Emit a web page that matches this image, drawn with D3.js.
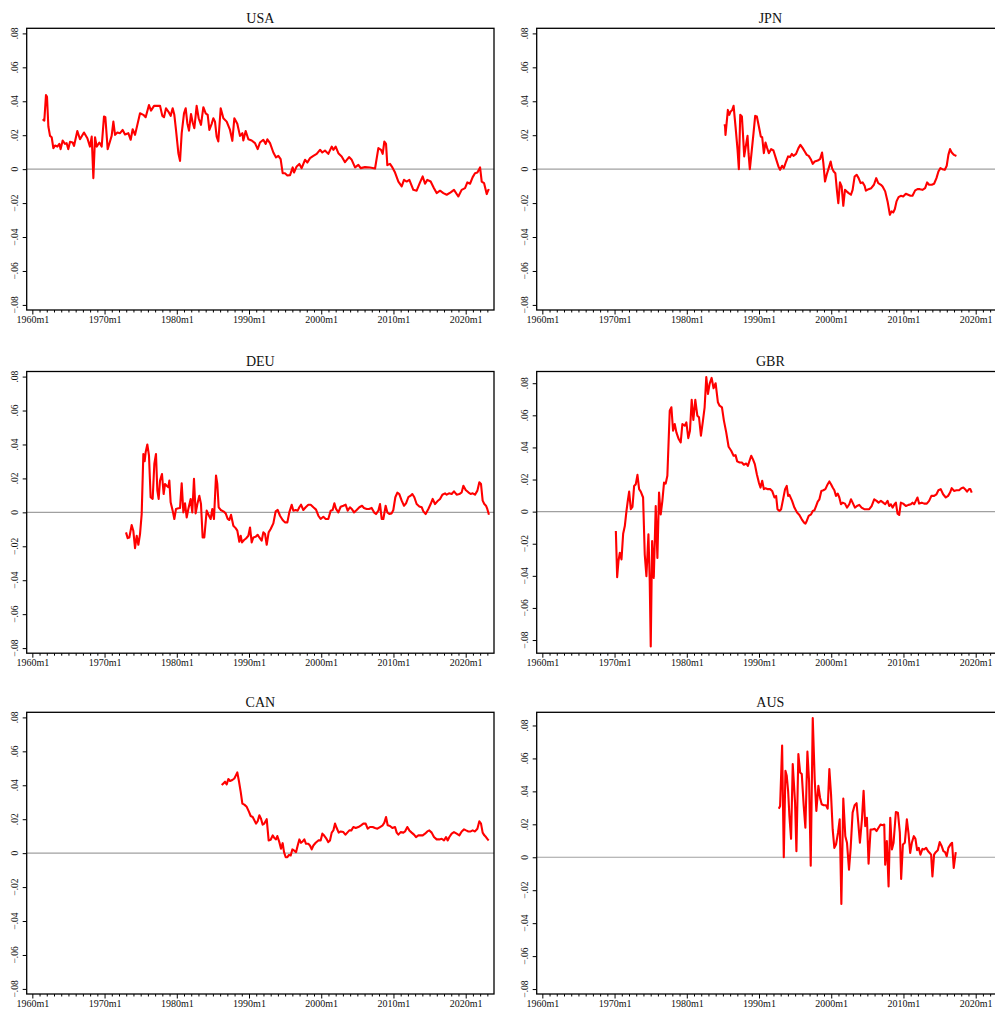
<!DOCTYPE html>
<html>
<head>
<meta charset="utf-8">
<script src="https://cdn.jsdelivr.net/npm/d3@7"></script>
<style>
  html, body { margin: 0; padding: 0; background: #fff; overflow: hidden; }
  svg { display: block; font-family: "Liberation Serif", "Times New Roman", serif; }
</style>
</head>
<body>
<svg width="995" height="1010"></svg>
<script>
// **** Data: [decimal year, value] ****
const usa = [[1961.43,.0294],[1961.66,.0286],[1961.89,.0437],[1962.03,.0427],[1962.22,.0251],[1962.45,.0196],[1962.68,.0188],[1962.91,.0124],[1963.14,.0139],[1963.46,.0133],[1963.74,.0149],[1963.92,.0118],[1964.2,.0169],[1964.52,.0149],[1964.75,.0153],[1964.98,.0118],[1965.22,.0161],[1965.58,.0157],[1965.77,.0137],[1966.23,.0225],[1966.6,.0176],[1967.15,.0216],[1967.62,.0182],[1967.98,.0133],[1968.22,.0192],[1968.45,-.0053],[1968.68,.0188],[1968.91,.0133],[1969.28,.0157],[1969.6,.0133],[1969.92,.031],[1970.11,.0306],[1970.43,.0118],[1970.75,.0163],[1970.98,.0196],[1971.22,.028],[1971.45,.0202],[1971.77,.0216],[1972.14,.0212],[1972.51,.0231],[1972.83,.0204],[1973.29,.0212],[1973.62,.0173],[1973.89,.0235],[1974.22,.0202],[1974.91,.0329],[1975.37,.032],[1975.69,.0306],[1976.15,.0378],[1976.43,.0345],[1976.85,.0373],[1977.22,.0373],[1977.68,.0373],[1978.0,.0314],[1978.23,.0306],[1978.51,.0359],[1978.83,.0339],[1979.15,.0314],[1979.43,.0359],[1979.66,.032],[1979.89,.0231],[1980.22,.0094],[1980.45,.0049],[1980.68,.0212],[1981.0,.0329],[1981.23,.0359],[1981.46,.0271],[1981.69,.0227],[1981.97,.0325],[1982.2,.0275],[1982.43,.0241],[1982.75,.0373],[1983.03,.03],[1983.35,.0261],[1983.68,.0365],[1984.0,.0329],[1984.28,.032],[1984.51,.0231],[1984.83,.0267],[1985.06,.03],[1985.29,.028],[1985.52,.0192],[1985.75,.0163],[1986.08,.0359],[1986.45,.03],[1986.91,.028],[1987.37,.0231],[1987.69,.0167],[1987.97,.03],[1988.38,.0267],[1988.75,.0196],[1989.08,.0212],[1989.21,.0169],[1989.54,.0225],[1989.91,.0176],[1990.37,.0169],[1990.83,.0153],[1991.2,.0118],[1991.52,.0157],[1991.98,.0173],[1992.31,.0149],[1992.54,.0176],[1992.91,.0153],[1993.37,.0098],[1993.74,.0069],[1994.06,.0078],[1994.38,.0059],[1994.66,-.0024],[1994.98,-.0024],[1995.31,-.0037],[1995.68,-.0035],[1996.05,.001],[1996.23,-.002],[1996.6,.0016],[1996.97,.0031],[1997.29,.0006],[1997.75,.0055],[1998.08,.0039],[1998.45,.0065],[1998.91,.0078],[1999.37,.009],[1999.83,.0114],[2000.15,.0098],[2000.52,.011],[2000.98,.009],[2001.45,.0133],[2001.68,.0114],[2002.0,.0133],[2002.37,.0094],[2002.83,.0075],[2003.29,.0041],[2003.85,.0071],[2004.22,.0055],[2004.68,.001],[2005.14,.0025],[2005.46,.0006],[2006.06,.0012],[2006.75,.001],[2007.45,.0004],[2007.91,.0124],[2008.28,.0114],[2008.51,.009],[2008.74,.0163],[2008.97,.0149],[2009.15,.0024],[2009.52,.0031],[2009.85,.001],[2010.22,-.002],[2010.68,-.0073],[2011.14,-.0102],[2011.46,-.0063],[2011.83,-.0073],[2012.2,-.0063],[2012.75,-.0122],[2013.21,-.0127],[2013.68,-.0078],[2014.05,-.0043],[2014.37,-.0086],[2014.69,-.0063],[2015.15,-.0073],[2015.61,-.0112],[2015.98,-.0141],[2016.45,-.0127],[2016.91,-.0141],[2017.37,-.0151],[2017.92,-.0137],[2018.38,-.0122],[2018.98,-.0161],[2019.44,-.0122],[2019.91,-.0112],[2020.23,-.0078],[2020.6,-.0086],[2020.97,-.0047],[2021.29,-.0024],[2021.62,-.002],[2021.99,.001],[2022.22,-.0073],[2022.54,-.0082],[2022.91,-.0147],[2023.14,-.0122],[2023.28,-.0125]];

const jpn = [[1985.23,.0265],[1985.3,.0251],[1985.36,.0202],[1985.69,.0349],[1985.88,.032],[1986.06,.0339],[1986.29,.0349],[1986.48,.0373],[1986.75,.0251],[1987.03,.0114],[1987.21,0],[1987.4,.032],[1987.63,.031],[1987.77,.0212],[1987.95,.0075],[1988.13,.0124],[1988.41,.0196],[1988.55,.0094],[1988.73,0],[1988.96,.0094],[1989.24,.0212],[1989.47,.0314],[1989.7,.031],[1989.98,.0251],[1990.25,.0192],[1990.44,.0188],[1990.67,.0094],[1990.9,.0157],[1991.13,.0124],[1991.36,.0094],[1991.68,.0118],[1992.0,.011],[1992.37,.0059],[1992.69,.0016],[1992.92,-.0004],[1993.2,.002],[1993.43,.0006],[1993.75,.0045],[1994.03,.0075],[1994.3,.0071],[1994.54,.009],[1994.77,.0078],[1995.13,.009],[1995.46,.0124],[1995.73,.0143],[1996.05,.0124],[1996.33,.0104],[1996.61,.0084],[1996.88,.0078],[1997.21,.0055],[1997.44,.0031],[1997.71,.0045],[1998.13,.0051],[1998.45,.0059],[1998.73,.0098],[1998.91,.0035],[1999.14,-.0073],[1999.37,-.0033],[1999.65,.0006],[1999.92,.0045],[2000.11,.0006],[2000.34,-.0014],[2000.57,-.0024],[2000.8,-.0131],[2000.98,-.02],[2001.21,-.0078],[2001.44,-.0102],[2001.67,-.0216],[2001.9,-.0122],[2002.13,-.0131],[2002.41,-.0141],[2002.73,-.0151],[2002.96,-.0122],[2003.24,-.0043],[2003.52,-.0033],[2003.79,-.0053],[2004.07,-.0082],[2004.34,-.0078],[2004.62,-.0098],[2004.8,-.0127],[2005.17,-.0118],[2005.54,-.0112],[2005.91,-.0092],[2006.23,-.0053],[2006.51,-.0082],[2006.88,-.0092],[2007.11,-.0102],[2007.47,-.0131],[2007.8,-.019],[2008.12,-.0269],[2008.35,-.0249],[2008.58,-.0255],[2008.81,-.0235],[2009.04,-.019],[2009.32,-.0165],[2009.64,-.0157],[2009.96,-.0161],[2010.33,-.0145],[2010.65,-.0151],[2010.97,-.0157],[2011.25,-.0157],[2011.62,-.0125],[2011.94,-.0118],[2012.26,-.0118],[2012.63,-.0122],[2013.0,-.0112],[2013.28,-.0078],[2013.55,-.0092],[2013.92,-.0092],[2014.24,-.0086],[2014.57,-.0053],[2014.84,-.0014],[2015.12,.0006],[2015.39,0],[2015.72,-.0004],[2015.99,.002],[2016.22,.0084],[2016.45,.0118],[2016.68,.0098],[2017.0,.0084],[2017.33,.0078]];

const deu = [[1972.97,-.0118],[1973.2,-.0152],[1973.43,-.0148],[1973.75,-.0075],[1973.98,-.0108],[1974.22,-.0211],[1974.45,-.0138],[1974.68,-.0191],[1974.91,-.0128],[1975.14,-.001],[1975.37,.0344],[1975.55,.0301],[1975.69,.0354],[1975.92,.04],[1976.15,.0335],[1976.38,.0089],[1976.66,.0079],[1976.89,.0285],[1977.12,.0344],[1977.31,.0128],[1977.49,.0079],[1977.68,.0187],[1977.95,.0226],[1978.18,.0108],[1978.37,.0167],[1978.6,.0157],[1978.83,.0148],[1978.97,.0187],[1979.15,.0059],[1979.43,.001],[1979.66,-.0039],[1979.89,.002],[1980.22,.0024],[1980.45,.0026],[1980.68,.0171],[1980.91,0],[1981.14,.0053],[1981.37,-.003],[1981.6,.002],[1981.92,.0079],[1982.15,0],[1982.38,.0197],[1982.61,-.0006],[1982.85,.0049],[1983.12,.0098],[1983.35,.0049],[1983.58,-.0148],[1983.81,-.0148],[1984.14,.001],[1984.46,-.002],[1984.69,-.0039],[1984.92,.002],[1985.15,-.0039],[1985.43,.0217],[1985.61,.0167],[1985.8,.003],[1986.08,.0014],[1986.45,.0006],[1986.77,-.0006],[1987.05,-.0039],[1987.28,-.0045],[1987.51,-.0014],[1987.83,-.0079],[1988.15,-.0093],[1988.38,-.0108],[1988.66,-.0173],[1988.85,-.0138],[1989.03,-.0177],[1989.31,-.0163],[1989.58,-.0154],[1989.91,-.0138],[1990.14,-.0089],[1990.37,-.0177],[1990.6,-.0148],[1990.92,-.0144],[1991.2,-.0132],[1991.43,-.0148],[1991.75,-.0167],[1991.98,-.0118],[1992.22,-.0128],[1992.45,-.0191],[1992.72,-.0118],[1993.0,-.0098],[1993.37,-.0065],[1993.69,.0006],[1993.97,.0014],[1994.29,-.002],[1994.66,-.0045],[1994.98,-.0059],[1995.31,-.0059],[1995.58,0],[1995.91,.0045],[1996.14,.001],[1996.46,.0014],[1996.74,.001],[1996.97,.003],[1997.2,.0045],[1997.52,.0014],[1997.85,.003],[1998.21,.0045],[1998.54,.0045],[1998.91,.003],[1999.28,.0016],[1999.6,-.002],[1999.92,-.0039],[2000.29,-.0026],[2000.62,-.0039],[2000.98,-.0039],[2001.31,.001],[2001.58,.0014],[2001.82,.0053],[2002.05,.002],[2002.37,0],[2002.69,.0033],[2003.06,.0039],[2003.38,.0045],[2003.66,.001],[2003.98,.003],[2004.22,.002],[2004.54,0],[2004.91,.0014],[2005.28,.003],[2005.65,.0039],[2005.92,.0026],[2006.29,.002],[2006.62,.002],[2006.98,.0026],[2007.31,0],[2007.58,-.001],[2007.91,.001],[2008.14,.0049],[2008.37,-.0039],[2008.6,-.0039],[2008.92,.0039],[2009.15,0],[2009.43,-.001],[2009.75,-.0006],[2009.98,.0014],[2010.26,.0089],[2010.54,.0116],[2010.81,.0108],[2011.14,.0069],[2011.46,.0039],[2011.74,.0053],[2012.06,.0089],[2012.38,.0098],[2012.61,.0108],[2012.89,.0089],[2013.21,.0049],[2013.58,.0035],[2013.91,.003],[2014.14,.0006],[2014.46,-.001],[2014.83,.002],[2015.15,.0049],[2015.43,.0079],[2015.75,.0049],[2016.08,.0065],[2016.45,.0079],[2016.77,.0104],[2017.14,.0112],[2017.37,.0104],[2017.69,.0112],[2018.06,.0108],[2018.38,.0124],[2018.75,.0104],[2019.12,.0108],[2019.45,.0118],[2019.68,.0157],[2020.0,.0132],[2020.37,.0118],[2020.69,.0108],[2020.97,.0112],[2021.29,.0104],[2021.62,.0128],[2021.89,.0177],[2022.12,.0167],[2022.35,.0069],[2022.58,.0049],[2022.81,.0039],[2022.99,.002],[2023.22,-.0014]];

const gbr = [[1970.18,-.0121],[1970.36,-.0408],[1970.54,-.0308],[1970.73,-.0256],[1970.96,-.0298],[1971.19,-.0138],[1971.42,-.009],[1971.65,.0004],[1971.83,.0067],[1972.02,.0125],[1972.25,.0015],[1972.48,.0029],[1972.71,.016],[1972.94,.0171],[1973.17,.0229],[1973.4,.014],[1973.63,.0125],[1973.95,.0088],[1974.18,-.0267],[1974.41,-.0402],[1974.69,-.0142],[1974.87,-.0433],[1975.01,-.084],[1975.2,-.0183],[1975.43,-.0413],[1975.7,.0035],[1975.93,-.0288],[1976.16,.0119],[1976.39,-.0017],[1976.62,.0067],[1976.85,.0181],[1977.08,.0175],[1977.31,.0223],[1977.64,.0629],[1977.87,.065],[1978.1,.0504],[1978.33,.0546],[1978.56,.0494],[1978.88,.0452],[1979.16,.0431],[1979.39,.0546],[1979.71,.0535],[1979.94,.0556],[1980.21,.0458],[1980.44,.0504],[1980.68,.0696],[1980.91,.0571],[1981.18,.0696],[1981.46,.0598],[1981.69,.0588],[1981.96,.0473],[1982.24,.0567],[1982.47,.065],[1982.7,.0838],[1982.93,.0733],[1983.16,.0796],[1983.44,.0833],[1983.71,.0769],[1983.99,.08],[1984.31,.0681],[1984.54,.066],[1984.87,.065],[1985.14,.0567],[1985.46,.0494],[1985.79,.0404],[1986.15,.0379],[1986.48,.0348],[1986.75,.0352],[1986.98,.0313],[1987.31,.0306],[1987.63,.0306],[1987.9,.0292],[1988.23,.03],[1988.46,.0285],[1988.69,.0317],[1988.92,.0348],[1989.15,.0327],[1989.42,.0296],[1989.7,.0233],[1989.98,.0181],[1990.21,.015],[1990.44,.0192],[1990.67,.014],[1990.9,.0146],[1991.22,.014],[1991.54,.014],[1991.82,.0129],[1992.14,.0088],[1992.37,.0098],[1992.56,.0015],[1992.83,.0004],[1993.06,.0015],[1993.29,.0067],[1993.61,.014],[1993.84,.016],[1994.03,.0098],[1994.21,.0104],[1994.58,.0067],[1994.9,.0025],[1995.27,-.0006],[1995.59,-.0021],[1995.92,-.0048],[1996.24,-.0069],[1996.42,-.0075],[1996.61,-.0058],[1996.88,-.0027],[1997.21,-.0017],[1997.44,.0004],[1997.67,.0008],[1997.9,.0035],[1998.13,.0063],[1998.36,.0077],[1998.63,.0129],[1998.91,.0133],[1999.19,.014],[1999.51,.0171],[1999.74,.0188],[1999.97,.0171],[2000.2,.015],[2000.43,.0133],[2000.66,.0098],[2000.89,.0113],[2001.12,.0088],[2001.35,.0046],[2001.58,.0056],[2001.9,.005],[2002.18,.0025],[2002.5,.0046],[2002.73,.0077],[2002.96,.0056],[2003.28,.0025],[2003.56,.0035],[2003.88,.0042],[2004.2,.0025],[2004.57,.0015],[2004.94,.0015],[2005.26,.0015],[2005.59,.0035],[2005.95,.0077],[2006.28,.0067],[2006.55,.0056],[2006.88,.0067],[2007.2,.0056],[2007.47,.0046],[2007.8,.0067],[2008.03,.0035],[2008.26,.0046],[2008.49,.0025],[2008.76,.0046],[2008.95,.0056],[2009.18,-.0013],[2009.41,-.0021],[2009.64,.0056],[2009.96,.005],[2010.33,.0035],[2010.7,.0042],[2011.02,.0046],[2011.25,.0056],[2011.48,.0046],[2011.71,.0067],[2011.94,.0088],[2012.17,.005],[2012.54,.0056],[2012.86,.005],[2013.23,.005],[2013.55,.0067],[2013.87,.0098],[2014.24,.0098],[2014.57,.0108],[2014.84,.0133],[2015.16,.014],[2015.49,.0108],[2015.86,.0088],[2016.18,.0098],[2016.45,.0119],[2016.68,.0146],[2017.0,.0129],[2017.33,.0133],[2017.7,.0133],[2018.02,.0146],[2018.29,.015],[2018.53,.014],[2018.8,.0125],[2019.08,.014],[2019.26,.014],[2019.45,.0119]];

const can = [[1986.22,.0401],[1986.45,.0411],[1986.68,.0421],[1986.91,.0405],[1987.14,.0437],[1987.37,.0425],[1987.69,.0431],[1987.97,.044],[1988.2,.046],[1988.38,.0476],[1988.62,.0421],[1988.85,.0361],[1989.08,.0292],[1989.35,.0286],[1989.68,.0273],[1990.0,.0243],[1990.23,.0219],[1990.51,.0213],[1990.74,.0194],[1990.97,.0174],[1991.2,.0188],[1991.43,.0223],[1991.66,.0203],[1991.89,.0168],[1992.12,.0174],[1992.45,.02],[1992.72,.0075],[1993.0,.0079],[1993.28,.0105],[1993.51,.0089],[1993.74,.0081],[1993.92,.0101],[1994.2,.0065],[1994.43,.0026],[1994.66,.0059],[1994.85,.0006],[1995.08,-.0024],[1995.31,-.0024],[1995.54,-.001],[1995.77,-.0014],[1996.0,.0022],[1996.23,.0016],[1996.51,.0006],[1996.74,.0045],[1996.97,.0081],[1997.2,.0061],[1997.43,.0069],[1997.66,.0081],[1997.89,.0055],[1998.21,.0055],[1998.44,.0045],[1998.68,.0022],[1998.91,.0045],[1999.23,.0061],[1999.6,.0075],[1999.92,.0075],[2000.15,.0115],[2000.38,.0105],[2000.66,.0089],[2000.98,.0065],[2001.21,.0075],[2001.45,.0121],[2001.68,.0134],[2001.91,.0174],[2002.14,.0148],[2002.42,.0121],[2002.69,.0128],[2003.06,.0124],[2003.34,.0109],[2003.61,.0121],[2003.89,.0134],[2004.17,.0134],[2004.45,.0154],[2004.77,.0148],[2005.14,.0154],[2005.51,.0164],[2005.83,.0174],[2006.15,.0174],[2006.43,.0144],[2006.75,.0154],[2007.12,.0154],[2007.45,.0148],[2007.77,.0144],[2008.14,.0154],[2008.51,.0164],[2008.74,.018],[2008.97,.0213],[2009.2,.0164],[2009.52,.016],[2009.85,.0148],[2010.22,.0154],[2010.45,.0121],[2010.68,.0109],[2011.0,.0124],[2011.37,.0121],[2011.6,.0128],[2011.92,.0154],[2012.2,.0134],[2012.52,.0121],[2012.84,.0109],[2013.12,.0095],[2013.45,.0105],[2013.77,.0105],[2014.05,.0105],[2014.37,.0115],[2014.69,.0128],[2014.97,.0134],[2015.29,.0121],[2015.61,.0095],[2015.98,.0081],[2016.35,.0081],[2016.68,.0085],[2017.0,.0075],[2017.28,.0095],[2017.51,.0075],[2017.74,.0095],[2018.06,.0115],[2018.38,.0124],[2018.75,.0115],[2019.12,.0105],[2019.45,.0128],[2019.77,.014],[2020.05,.0134],[2020.37,.0128],[2020.69,.0128],[2020.97,.0134],[2021.29,.0128],[2021.62,.0144],[2021.89,.0188],[2022.12,.0174],[2022.35,.0121],[2022.58,.0105],[2022.81,.0095],[2023.05,.0081],[2023.18,.0075]];

const aus = [[1992.74,.0295],[1992.92,.0311],[1993.2,.0678],[1993.43,0],[1993.66,.0525],[1993.84,.0495],[1994.03,.0403],[1994.21,.025],[1994.44,.0112],[1994.67,.0566],[1994.99,.0332],[1995.18,.0037],[1995.45,.0627],[1995.69,.0515],[1995.92,.0505],[1996.19,.0311],[1996.42,.0179],[1996.7,.0641],[1996.93,.0464],[1997.16,-.0051],[1997.44,.0845],[1997.71,.0474],[1997.94,.0281],[1998.22,.0434],[1998.45,.0362],[1998.68,.0322],[1998.96,.0316],[1999.28,.0316],[1999.51,.0295],[1999.74,.0535],[1999.97,.0383],[2000.2,.0169],[2000.43,.0057],[2000.66,.0077],[2000.94,.0149],[2001.17,.023],[2001.4,-.0283],[2001.67,.0356],[2001.95,.0128],[2002.18,.0088],[2002.46,-.0075],[2002.69,.0057],[2002.96,.0271],[2003.24,.0316],[2003.51,.0328],[2003.74,.021],[2003.97,.0088],[2004.25,.023],[2004.48,.0403],[2004.71,.0189],[2004.94,.024],[2005.17,-.0039],[2005.45,.0169],[2005.72,.0169],[2006.0,.0173],[2006.28,.0159],[2006.55,.0179],[2006.83,.0199],[2007.11,.0195],[2007.34,.0199],[2007.47,-.0045],[2007.7,.0098],[2007.94,-.0177],[2008.17,.024],[2008.4,.0047],[2008.63,.0088],[2008.95,.0275],[2009.23,.0271],[2009.5,.0149],[2009.68,-.0132],[2009.92,.0077],[2010.19,.0088],[2010.47,.023],[2010.7,.0145],[2010.93,.0026],[2011.16,.0088],[2011.43,.0128],[2011.66,.0112],[2011.89,.0043],[2012.12,.0057],[2012.35,.0016],[2012.63,.0051],[2012.86,.0047],[2013.14,.0057],[2013.41,.0037],[2013.64,.0026],[2013.83,.0016],[2014.01,-.0116],[2014.24,.0016],[2014.47,.0031],[2014.75,.0043],[2015.02,.0092],[2015.3,.0067],[2015.53,.0037],[2015.76,.0031],[2015.99,.0006],[2016.22,.0057],[2016.5,.0077],[2016.73,.0088],[2016.96,-.0065],[2017.24,.0031]];

const countries = ['USA', 'JPN', 'DEU', 'GBR', 'CAN', 'AUS'];
const series = [usa, jpn, deu, gbr, can, aus];
const xTicks = [1960, 1970, 1980, 1990, 2000, 2010, 2020];
const yTicks = [-0.08, -0.06, -0.04, -0.02, 0, 0.02, 0.04, 0.06, 0.08];

// **** Layout ****
var svg = d3.select('svg');
var boxW = 467.3, boxH = 281.7;
var colX = [26.7, 536.7];
var rowY = [28.3, 371.5, 712.3];

var xScale = d3.scaleLinear()
    .domain([1959.22, 2023.92])
    .range([0, boxW]);

// minor ticks every year
var minorYears = d3.range(1960, 2024).filter(d => d % 10 !== 0);

function fmtY(v) {
    if (Math.abs(v) < 1e-9) return '0';
    return d3.format('.2f')(v).replace('0.', '.');
}

countries.forEach(function(name, i) {
    var data = series[i];
    var g = svg.append('g')
        .attr('transform', 'translate(' + colX[i % 2] + ',' + rowY[Math.floor(i / 2)] + ')');

    var ext = d3.extent(data, d => d[1]);
    var yScale = d3.scaleLinear()
        .domain([Math.min(-0.083, ext[0] - 0.0042), Math.max(0.083, ext[1] + 0.0035)])
        .range([boxH, 0]);

    // title
    g.append('text')
        .attr('x', boxW / 2)
        .attr('y', -5.5)
        .attr('text-anchor', 'middle')
        .style('font-size', '14px')
        .attr('fill', '#111')
        .text(name);

    // zero line
    g.append('line')
        .attr('x1', 0).attr('x2', boxW)
        .attr('y1', yScale(0)).attr('y2', yScale(0))
        .attr('stroke', '#a0a0a0')
        .attr('stroke-width', 1.1);

    // series line
    var line = d3.line()
        .x(d => xScale(d[0]))
        .y(d => yScale(d[1]));

    g.append('path')
        .datum(data)
        .attr('d', line)
        .attr('fill', 'none')
        .attr('stroke', '#ff0000')
        .attr('stroke-width', 2.1)
        .attr('stroke-linejoin', 'round');

    // x axis (major)
    var xAxis = d3.axisBottom(xScale)
        .tickValues(xTicks)
        .tickFormat(d => d + 'm1')
        .tickSize(4.5)
        .tickPadding(1.5);
    var xg = g.append('g')
        .attr('transform', 'translate(0,' + boxH + ')')
        .call(xAxis);
    xg.select('.domain').remove();
    xg.selectAll('text').style('font-size', '10px').style('font-family', '"Liberation Serif", serif').attr('fill', '#111');

    // x axis (minor)
    var xg2 = g.append('g')
        .attr('transform', 'translate(0,' + boxH + ')')
        .call(d3.axisBottom(xScale).tickValues(minorYears).tickFormat('').tickSize(2.5));
    xg2.select('.domain').remove();

    // y axis
    var yg = g.append('g')
        .call(d3.axisLeft(yScale).tickValues(yTicks).tickFormat('').tickSize(4));
    yg.select('.domain').remove();

    g.selectAll('.ylab')
        .data(yTicks)
        .enter()
        .append('text')
        .attr('class', 'ylab')
        .attr('transform', d => 'translate(-8.5,' + yScale(d) + ') rotate(-90)')
        .attr('text-anchor', 'middle')
        .style('font-size', '9.5px')
        .attr('fill', '#111')
        .text(fmtY);

    // plot box
    g.append('rect')
        .attr('x', 0).attr('y', 0)
        .attr('width', boxW).attr('height', boxH)
        .attr('fill', 'none')
        .attr('stroke', '#000')
        .attr('stroke-width', 1.3);
});
</script>
</body>
</html>
